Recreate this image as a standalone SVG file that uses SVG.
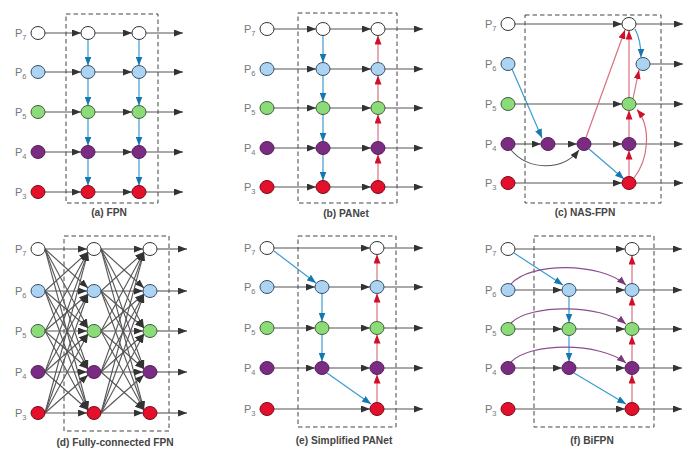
<svg xmlns="http://www.w3.org/2000/svg" width="700" height="460" viewBox="0 0 700 460">
<defs>
<style>
.w{fill:#fff;stroke:#333;stroke-width:1}
.b{fill:#acd3f1;stroke:#34506a;stroke-width:1}
.g{fill:#8bdc78;stroke:#3f5e3a;stroke-width:1}
.p{fill:#7a2c82;stroke:#55205a;stroke-width:1}
.r{fill:#e3102b;stroke:#7a0a18;stroke-width:1}
.e path{stroke:#555;stroke-width:1.1;fill:none;marker-end:url(#ag)}
.e path.bl{stroke:#3b9bd0;stroke-width:1.2;marker-end:url(#ab)}
.e path.rd{stroke:#d9707f;stroke-width:1.2;marker-end:url(#ar)}
.e path.pu{stroke:#8b4d8c;stroke-width:1.1;marker-end:url(#ap)}
.box{fill:none;stroke:#444;stroke-width:1;stroke-dasharray:4.5 3}
.lbl{font-family:"Liberation Sans",Arial,sans-serif;font-size:11px;fill:#777}
.lbl tspan.s{font-size:7.5px}
.cap{font-family:"Liberation Sans",Arial,sans-serif;font-size:10.2px;font-weight:bold;fill:#444;text-anchor:middle}
</style>
<marker id="ag" markerUnits="userSpaceOnUse" markerWidth="9" markerHeight="7" viewBox="0 0 9 7" refX="9" refY="3.5" orient="auto"><path d="M0,0L9,3.5L0,7z" fill="#333"/></marker>
<marker id="ab" markerUnits="userSpaceOnUse" markerWidth="9" markerHeight="7" viewBox="0 0 9 7" refX="9" refY="3.5" orient="auto"><path d="M0,0L9,3.5L0,7z" fill="#1577b0"/></marker>
<marker id="ar" markerUnits="userSpaceOnUse" markerWidth="9" markerHeight="7" viewBox="0 0 9 7" refX="9" refY="3.5" orient="auto"><path d="M0,0L9,3.5L0,7z" fill="#d0102a"/></marker>
<marker id="ap" markerUnits="userSpaceOnUse" markerWidth="9" markerHeight="7" viewBox="0 0 9 7" refX="9" refY="3.5" orient="auto"><path d="M0,0L9,3.5L0,7z" fill="#7a3a7a"/></marker>
</defs>
<rect width="700" height="460" fill="#fff"/>

<g id="boxes">
<rect class="box" x="66" y="14" width="92" height="189"/>
<rect class="box" x="298" y="13" width="99" height="190"/>
<rect class="box" x="525" y="15" width="136" height="188"/>
<rect class="box" x="64" y="236" width="105" height="195"/>
<rect class="box" x="298" y="236" width="98" height="191"/>
<rect class="box" x="534" y="236" width="120" height="191"/>
</g>

<g id="connectors" class="e">
<!-- (a) FPN -->
<path d="M45 33H81"/><path d="M95 33H132"/><path d="M146 33H183"/>
<path d="M45 72H81"/><path d="M95 72H132"/><path d="M146 72H183"/>
<path d="M45 112H81"/><path d="M95 112H132"/><path d="M146 112H183"/>
<path d="M45 152H81"/><path d="M95 152H132"/><path d="M146 152H183"/>
<path d="M45 192H81"/><path d="M95 192H132"/><path d="M146 192H183"/>
<path class="bl" d="M88 39.5V65.5"/><path class="bl" d="M88 78.5V105.5"/><path class="bl" d="M88 118.5V145.5"/><path class="bl" d="M88 158.5V185.5"/>
<path class="bl" d="M139 39.5V65.5"/><path class="bl" d="M139 78.5V105.5"/><path class="bl" d="M139 118.5V145.5"/><path class="bl" d="M139 158.5V185.5"/>
<!-- (b) PANet -->
<path d="M274 29H316"/><path d="M330 29H371"/><path d="M385 29H423"/>
<path d="M274 69H316"/><path d="M330 69H371"/><path d="M385 69H423"/>
<path d="M274 108H316"/><path d="M330 108H371"/><path d="M385 108H423"/>
<path d="M274 148H316"/><path d="M330 148H371"/><path d="M385 148H423"/>
<path d="M274 187H316"/><path d="M330 187H371"/><path d="M385 187H423"/>
<path class="bl" d="M323 35.5V62.5"/><path class="bl" d="M323 75.5V101.5"/><path class="bl" d="M323 114.5V141.5"/><path class="bl" d="M323 154.5V180.5"/>
<path class="rd" d="M378 180.5V154.5"/><path class="rd" d="M378 141.5V114.5"/><path class="rd" d="M378 101.5V75.5"/><path class="rd" d="M378 62.5V35.5"/>
<!-- (c) NAS-FPN -->
<path d="M515 24H622"/><path d="M636 24H683"/>
<path class="bl" d="M635 29Q641 40 641 57.5"/>
<path d="M650 64H683"/>
<path class="bl" d="M512 69L542 138"/>
<path d="M515 104H622"/><path d="M636 104H683"/>
<path d="M515 144H541"/><path d="M555 144H577"/><path d="M591 144H622"/><path d="M636 144H683"/>
<path d="M511 150C528 170 562 172 579 150"/>
<path class="bl" d="M589 149L624 179"/>
<path class="rd" d="M586 137.5L625 30"/>
<path d="M515 183H622"/><path d="M636 183H683"/>
<path class="rd" d="M629 176.5V150.5"/><path class="rd" d="M629 137.5V110.5"/><path class="rd" d="M629 97.5V30.5"/>
<path class="rd" d="M633 98.5L639 70"/>
<path class="rd" d="M634 178C648 160 652 128 637 109.5"/>
<!-- (d) Fully-connected FPN -->
<path d="M45 249L87 249"/><path d="M45 249L88 288"/><path d="M45 249L88 328"/><path d="M45 249L88 369"/><path d="M45 249L88 410"/>
<path d="M45 291L88 252"/><path d="M45 291L87 291"/><path d="M45 291L88 328"/><path d="M45 291L88 369"/><path d="M45 291L88 410"/>
<path d="M45 331L88 252"/><path d="M45 331L88 294"/><path d="M45 331L87 331"/><path d="M45 331L88 369"/><path d="M45 331L88 410"/>
<path d="M45 372L88 252"/><path d="M45 372L88 294"/><path d="M45 372L88 334"/><path d="M45 372L87 372"/><path d="M45 372L88 410"/>
<path d="M45 413L88 252"/><path d="M45 413L88 294"/><path d="M45 413L88 334"/><path d="M45 413L88 375"/><path d="M45 413L87 413"/>
<path d="M101 249L143 249"/><path d="M101 249L144 288"/><path d="M101 249L144 328"/><path d="M101 249L144 369"/><path d="M101 249L144 410"/>
<path d="M101 291L144 252"/><path d="M101 291L143 291"/><path d="M101 291L144 328"/><path d="M101 291L144 369"/><path d="M101 291L144 410"/>
<path d="M101 331L144 252"/><path d="M101 331L144 294"/><path d="M101 331L143 331"/><path d="M101 331L144 369"/><path d="M101 331L144 410"/>
<path d="M101 372L144 252"/><path d="M101 372L144 294"/><path d="M101 372L144 334"/><path d="M101 372L143 372"/><path d="M101 372L144 410"/>
<path d="M101 413L144 252"/><path d="M101 413L144 294"/><path d="M101 413L144 334"/><path d="M101 413L144 375"/><path d="M101 413L143 413"/>
<path d="M157 249H187"/><path d="M157 291H187"/><path d="M157 331H187"/><path d="M157 372H187"/><path d="M157 413H187"/>
<!-- (e) Simplified PANet -->
<path d="M274 248H370"/>
<path class="bl" d="M274 251L316 283"/>
<path d="M274 287H315"/><path d="M329 287H370"/>
<path d="M274 328H315"/><path d="M329 328H370"/>
<path d="M274 368H315"/><path d="M329 368H370"/>
<path d="M274 409H370"/>
<path class="bl" d="M322 293.5V321.5"/><path class="bl" d="M322 334.5V361.5"/>
<path class="bl" d="M327 373L371 404"/>
<path class="rd" d="M377 402.5V374.5"/><path class="rd" d="M377 361.5V334.5"/><path class="rd" d="M377 321.5V293.5"/><path class="rd" d="M377 280.5V254.5"/>
<path d="M384 248H423"/><path d="M384 287H423"/><path d="M384 328H423"/><path d="M384 368H423"/><path d="M384 409H423"/>
<!-- (f) BiFPN -->
<path d="M515 249H625"/>
<path class="bl" d="M514 253L563 285"/>
<path d="M515 290H562"/><path d="M576 290H625"/>
<path d="M515 329H562"/><path d="M576 329H625"/>
<path d="M515 368H562"/><path d="M576 368H625"/>
<path d="M515 409H625"/>
<path class="bl" d="M569 296.5V322.5"/><path class="bl" d="M569 335.5V361.5"/>
<path class="bl" d="M574 373L626 404"/>
<path class="rd" d="M632 402.5V374.5"/><path class="rd" d="M632 361.5V335.5"/><path class="rd" d="M632 322.5V296.5"/><path class="rd" d="M632 283.5V255.5"/>
<path class="pu" d="M511 284C530 262 600 262 626 285"/>
<path class="pu" d="M511 323C530 304 600 304 626 324"/>
<path class="pu" d="M511 362C530 342 600 342 626 363"/>
<path d="M639 249H682"/><path d="M639 290H682"/><path d="M639 329H682"/><path d="M639 368H682"/><path d="M639 409H682"/>
</g>

<g id="panel-a">
<g id="a-in7"><ellipse class="w" cx="38" cy="33" rx="7" ry="6.5"/></g>
<g id="a-in6"><ellipse class="b" cx="38" cy="72" rx="7" ry="6.5"/></g>
<g id="a-in5"><ellipse class="g" cx="38" cy="112" rx="7" ry="6.5"/></g>
<g id="a-in4"><ellipse class="p" cx="38" cy="152" rx="7" ry="6.5"/></g>
<g id="a-in3"><ellipse class="r" cx="38" cy="192" rx="7" ry="6.5"/></g>
<g id="a-m7"><ellipse class="w" cx="88" cy="33" rx="7" ry="6.5"/></g>
<g id="a-m6"><ellipse class="b" cx="88" cy="72" rx="7" ry="6.5"/></g>
<g id="a-m5"><ellipse class="g" cx="88" cy="112" rx="7" ry="6.5"/></g>
<g id="a-m4"><ellipse class="p" cx="88" cy="152" rx="7" ry="6.5"/></g>
<g id="a-m3"><ellipse class="r" cx="88" cy="192" rx="7" ry="6.5"/></g>
<g id="a-o7"><ellipse class="w" cx="139" cy="33" rx="7" ry="6.5"/></g>
<g id="a-o6"><ellipse class="b" cx="139" cy="72" rx="7" ry="6.5"/></g>
<g id="a-o5"><ellipse class="g" cx="139" cy="112" rx="7" ry="6.5"/></g>
<g id="a-o4"><ellipse class="p" cx="139" cy="152" rx="7" ry="6.5"/></g>
<g id="a-o3"><ellipse class="r" cx="139" cy="192" rx="7" ry="6.5"/></g>
<text class="lbl" x="15" y="37">P<tspan class="s" dy="3">7</tspan></text>
<text class="lbl" x="15" y="76">P<tspan class="s" dy="3">6</tspan></text>
<text class="lbl" x="15" y="116">P<tspan class="s" dy="3">5</tspan></text>
<text class="lbl" x="15" y="156">P<tspan class="s" dy="3">4</tspan></text>
<text class="lbl" x="15" y="196">P<tspan class="s" dy="3">3</tspan></text>
<text class="cap" x="109" y="216">(a) FPN</text>
</g>

<g id="panel-b">
<g id="b-in7"><ellipse class="w" cx="267" cy="29" rx="7" ry="6.5"/></g>
<g id="b-in6"><ellipse class="b" cx="267" cy="69" rx="7" ry="6.5"/></g>
<g id="b-in5"><ellipse class="g" cx="267" cy="108" rx="7" ry="6.5"/></g>
<g id="b-in4"><ellipse class="p" cx="267" cy="148" rx="7" ry="6.5"/></g>
<g id="b-in3"><ellipse class="r" cx="267" cy="187" rx="7" ry="6.5"/></g>
<g id="b-m7"><ellipse class="w" cx="323" cy="29" rx="7" ry="6.5"/></g>
<g id="b-m6"><ellipse class="b" cx="323" cy="69" rx="7" ry="6.5"/></g>
<g id="b-m5"><ellipse class="g" cx="323" cy="108" rx="7" ry="6.5"/></g>
<g id="b-m4"><ellipse class="p" cx="323" cy="148" rx="7" ry="6.5"/></g>
<g id="b-m3"><ellipse class="r" cx="323" cy="187" rx="7" ry="6.5"/></g>
<g id="b-o7"><ellipse class="w" cx="378" cy="29" rx="7" ry="6.5"/></g>
<g id="b-o6"><ellipse class="b" cx="378" cy="69" rx="7" ry="6.5"/></g>
<g id="b-o5"><ellipse class="g" cx="378" cy="108" rx="7" ry="6.5"/></g>
<g id="b-o4"><ellipse class="p" cx="378" cy="148" rx="7" ry="6.5"/></g>
<g id="b-o3"><ellipse class="r" cx="378" cy="187" rx="7" ry="6.5"/></g>
<text class="lbl" x="244" y="33">P<tspan class="s" dy="3">7</tspan></text>
<text class="lbl" x="244" y="73">P<tspan class="s" dy="3">6</tspan></text>
<text class="lbl" x="244" y="112">P<tspan class="s" dy="3">5</tspan></text>
<text class="lbl" x="244" y="152">P<tspan class="s" dy="3">4</tspan></text>
<text class="lbl" x="244" y="191">P<tspan class="s" dy="3">3</tspan></text>
<text class="cap" x="346" y="217">(b) PANet</text>
</g>

<g id="panel-c">
<g id="c-in7"><ellipse class="w" cx="508" cy="24" rx="7" ry="6.5"/></g>
<g id="c-in6"><ellipse class="b" cx="508" cy="64" rx="7" ry="6.5"/></g>
<g id="c-in5"><ellipse class="g" cx="508" cy="104" rx="7" ry="6.5"/></g>
<g id="c-in4"><ellipse class="p" cx="508" cy="144" rx="7" ry="6.5"/></g>
<g id="c-in3"><ellipse class="r" cx="508" cy="183" rx="7" ry="6.5"/></g>
<g id="c-i1"><ellipse class="p" cx="548" cy="144" rx="7" ry="6.5"/></g>
<g id="c-i2"><ellipse class="p" cx="584" cy="144" rx="7" ry="6.5"/></g>
<g id="c-o7"><ellipse class="w" cx="629" cy="24" rx="7" ry="6.5"/></g>
<g id="c-o6"><ellipse class="b" cx="643" cy="64" rx="7" ry="6.5"/></g>
<g id="c-o5"><ellipse class="g" cx="629" cy="104" rx="7" ry="6.5"/></g>
<g id="c-o4"><ellipse class="p" cx="629" cy="144" rx="7" ry="6.5"/></g>
<g id="c-o3"><ellipse class="r" cx="629" cy="183" rx="7" ry="6.5"/></g>
<text class="lbl" x="485" y="28">P<tspan class="s" dy="3">7</tspan></text>
<text class="lbl" x="485" y="68">P<tspan class="s" dy="3">6</tspan></text>
<text class="lbl" x="485" y="108">P<tspan class="s" dy="3">5</tspan></text>
<text class="lbl" x="485" y="148">P<tspan class="s" dy="3">4</tspan></text>
<text class="lbl" x="485" y="187">P<tspan class="s" dy="3">3</tspan></text>
<text class="cap" x="585" y="216">(c) NAS-FPN</text>
</g>

<g id="panel-d">
<g id="d-in7"><ellipse class="w" cx="38" cy="249" rx="7" ry="6.5"/></g>
<g id="d-in6"><ellipse class="b" cx="38" cy="291" rx="7" ry="6.5"/></g>
<g id="d-in5"><ellipse class="g" cx="38" cy="331" rx="7" ry="6.5"/></g>
<g id="d-in4"><ellipse class="p" cx="38" cy="372" rx="7" ry="6.5"/></g>
<g id="d-in3"><ellipse class="r" cx="38" cy="413" rx="7" ry="6.5"/></g>
<g id="d-m7"><ellipse class="w" cx="94" cy="249" rx="7" ry="6.5"/></g>
<g id="d-m6"><ellipse class="b" cx="94" cy="291" rx="7" ry="6.5"/></g>
<g id="d-m5"><ellipse class="g" cx="94" cy="331" rx="7" ry="6.5"/></g>
<g id="d-m4"><ellipse class="p" cx="94" cy="372" rx="7" ry="6.5"/></g>
<g id="d-m3"><ellipse class="r" cx="94" cy="413" rx="7" ry="6.5"/></g>
<g id="d-o7"><ellipse class="w" cx="150" cy="249" rx="7" ry="6.5"/></g>
<g id="d-o6"><ellipse class="b" cx="150" cy="291" rx="7" ry="6.5"/></g>
<g id="d-o5"><ellipse class="g" cx="150" cy="331" rx="7" ry="6.5"/></g>
<g id="d-o4"><ellipse class="p" cx="150" cy="372" rx="7" ry="6.5"/></g>
<g id="d-o3"><ellipse class="r" cx="150" cy="413" rx="7" ry="6.5"/></g>
<text class="lbl" x="15" y="253">P<tspan class="s" dy="3">7</tspan></text>
<text class="lbl" x="15" y="295">P<tspan class="s" dy="3">6</tspan></text>
<text class="lbl" x="15" y="335">P<tspan class="s" dy="3">5</tspan></text>
<text class="lbl" x="15" y="376">P<tspan class="s" dy="3">4</tspan></text>
<text class="lbl" x="15" y="417">P<tspan class="s" dy="3">3</tspan></text>
<text class="cap" x="115" y="446">(d) Fully-connected FPN</text>
</g>

<g id="panel-e">
<g id="e-in7"><ellipse class="w" cx="267" cy="248" rx="7" ry="6.5"/></g>
<g id="e-in6"><ellipse class="b" cx="267" cy="287" rx="7" ry="6.5"/></g>
<g id="e-in5"><ellipse class="g" cx="267" cy="328" rx="7" ry="6.5"/></g>
<g id="e-in4"><ellipse class="p" cx="267" cy="368" rx="7" ry="6.5"/></g>
<g id="e-in3"><ellipse class="r" cx="267" cy="409" rx="7" ry="6.5"/></g>
<g id="e-m6"><ellipse class="b" cx="322" cy="287" rx="7" ry="6.5"/></g>
<g id="e-m5"><ellipse class="g" cx="322" cy="328" rx="7" ry="6.5"/></g>
<g id="e-m4"><ellipse class="p" cx="322" cy="368" rx="7" ry="6.5"/></g>
<g id="e-o7"><ellipse class="w" cx="377" cy="248" rx="7" ry="6.5"/></g>
<g id="e-o6"><ellipse class="b" cx="377" cy="287" rx="7" ry="6.5"/></g>
<g id="e-o5"><ellipse class="g" cx="377" cy="328" rx="7" ry="6.5"/></g>
<g id="e-o4"><ellipse class="p" cx="377" cy="368" rx="7" ry="6.5"/></g>
<g id="e-o3"><ellipse class="r" cx="377" cy="409" rx="7" ry="6.5"/></g>
<text class="lbl" x="244" y="252">P<tspan class="s" dy="3">7</tspan></text>
<text class="lbl" x="244" y="291">P<tspan class="s" dy="3">6</tspan></text>
<text class="lbl" x="244" y="332">P<tspan class="s" dy="3">5</tspan></text>
<text class="lbl" x="244" y="372">P<tspan class="s" dy="3">4</tspan></text>
<text class="lbl" x="244" y="413">P<tspan class="s" dy="3">3</tspan></text>
<text class="cap" x="344" y="444">(e) Simplified PANet</text>
</g>

<g id="panel-f">
<g id="f-in7"><ellipse class="w" cx="508" cy="249" rx="7" ry="6.5"/></g>
<g id="f-in6"><ellipse class="b" cx="508" cy="290" rx="7" ry="6.5"/></g>
<g id="f-in5"><ellipse class="g" cx="508" cy="329" rx="7" ry="6.5"/></g>
<g id="f-in4"><ellipse class="p" cx="508" cy="368" rx="7" ry="6.5"/></g>
<g id="f-in3"><ellipse class="r" cx="508" cy="409" rx="7" ry="6.5"/></g>
<g id="f-m6"><ellipse class="b" cx="569" cy="290" rx="7" ry="6.5"/></g>
<g id="f-m5"><ellipse class="g" cx="569" cy="329" rx="7" ry="6.5"/></g>
<g id="f-m4"><ellipse class="p" cx="569" cy="368" rx="7" ry="6.5"/></g>
<g id="f-o7"><ellipse class="w" cx="632" cy="249" rx="7" ry="6.5"/></g>
<g id="f-o6"><ellipse class="b" cx="632" cy="290" rx="7" ry="6.5"/></g>
<g id="f-o5"><ellipse class="g" cx="632" cy="329" rx="7" ry="6.5"/></g>
<g id="f-o4"><ellipse class="p" cx="632" cy="368" rx="7" ry="6.5"/></g>
<g id="f-o3"><ellipse class="r" cx="632" cy="409" rx="7" ry="6.5"/></g>
<text class="lbl" x="485" y="253">P<tspan class="s" dy="3">7</tspan></text>
<text class="lbl" x="485" y="294">P<tspan class="s" dy="3">6</tspan></text>
<text class="lbl" x="485" y="333">P<tspan class="s" dy="3">5</tspan></text>
<text class="lbl" x="485" y="372">P<tspan class="s" dy="3">4</tspan></text>
<text class="lbl" x="485" y="413">P<tspan class="s" dy="3">3</tspan></text>
<text class="cap" x="592" y="444">(f) BiFPN</text>
</g>
</svg>
